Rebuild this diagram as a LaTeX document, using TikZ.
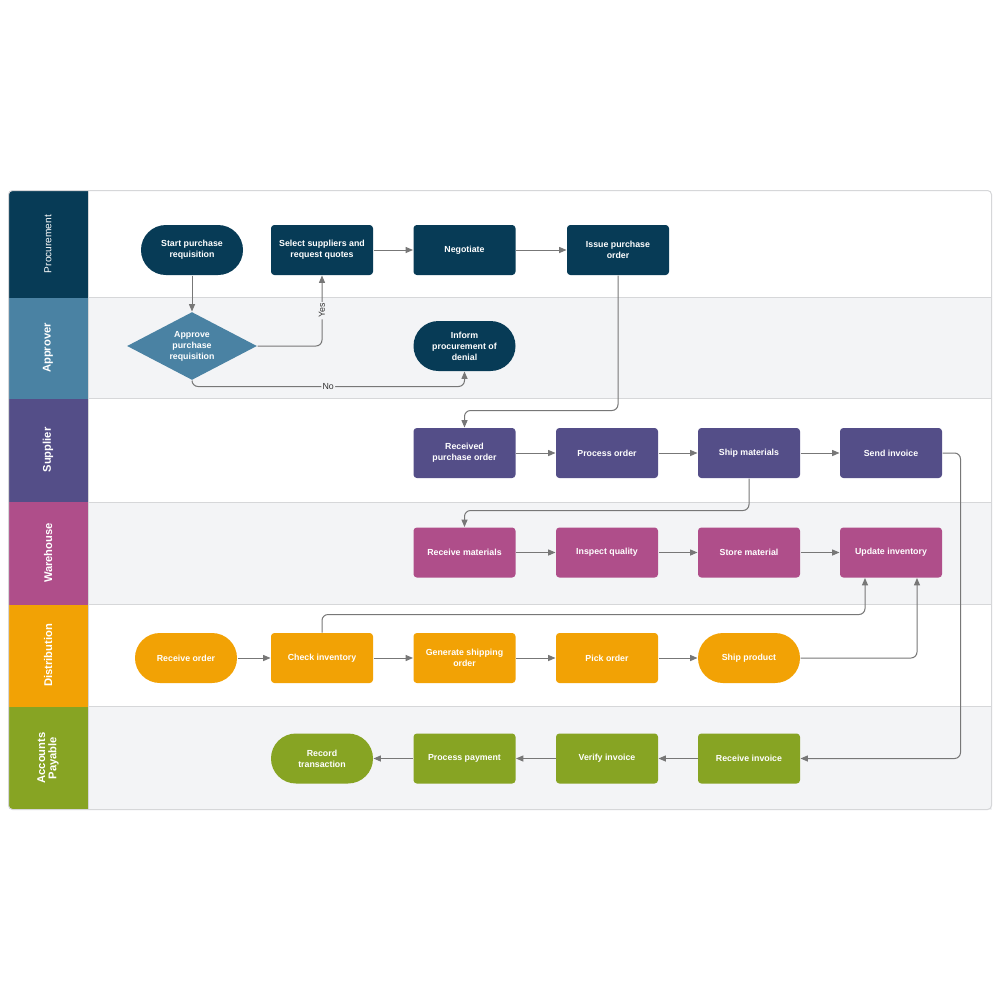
\documentclass[tikz,border=0pt]{standalone}
\usepackage{fontspec}
\setmainfont{Liberation Sans}
\usetikzlibrary{shapes.geometric,arrows.meta}

\definecolor{cProc}{HTML}{073B56}
\definecolor{cAppr}{HTML}{4A82A3}
\definecolor{cSupp}{HTML}{544E88}
\definecolor{cWare}{HTML}{AF4E8A}
\definecolor{cDist}{HTML}{F2A205}
\definecolor{cAcct}{HTML}{87A423}
\definecolor{cLaneGray}{HTML}{F3F4F6}
\definecolor{cRule}{HTML}{D6D7D9}
\definecolor{cFlow}{HTML}{777777}

\tikzset{every picture/.style={line width=0.75pt}}
\tikzset{
  stepbox/.style={rectangle, rounded corners=2.5pt, minimum width=76.5pt, minimum height=37.5pt,
    inner sep=1pt, align=center, text=white, font=\fontsize{6.6}{8.25}\selectfont\bfseries},
  termbox/.style={stepbox, rounded corners=18.7pt},
  decbox/.style={diamond, minimum width=97.5pt, minimum height=51pt, inner sep=0pt, aspect=1.9,
    align=center, text=white, font=\fontsize{6.6}{8.25}\selectfont\bfseries},
  lanetxt/.style={rotate=90, text=white, align=center, font=\fontsize{8.4}{8.4}\selectfont\bfseries},
  flow/.style={draw=cFlow, line width=0.75pt, rounded corners=4.5pt, -{Triangle[length=5.5pt,width=4.5pt]}},
  flowlbl/.style={fill=cLaneGray, inner sep=1pt, text=black!80, font=\fontsize{6.6}{6.6}\selectfont},
}

\begin{document}
\begin{tikzpicture}[x=0.75pt,y=0.75pt,yscale=-1,xscale=1]
\useasboundingbox (0,0) rectangle (1000,1000);
\fill[white] (0,0) rectangle (1000,1000);

%Lane backgrounds
\fill[cLaneGray] (88,297.5) rectangle (991.5,398.5);
\fill[cLaneGray] (88,502) rectangle (991.5,604.5);
\fill[cLaneGray] (88,706.5) rectangle (991.5,809.5);
%Lane headers
\begin{scope}
\clip[rounded corners=3pt] (8.5,190.5) rectangle (991.5,809.5);
\fill[cProc] (8.5,190.5) rectangle (88,297.5);
\fill[cAppr] (8.5,297.5) rectangle (88,398.5);
\fill[cSupp] (8.5,398.5) rectangle (88,502);
\fill[cWare] (8.5,502) rectangle (88,604.5);
\fill[cDist] (8.5,604.5) rectangle (88,706.5);
\fill[cAcct] (8.5,706.5) rectangle (88,809.5);
\end{scope}
%Lane rules
\draw[cRule] (88,297.5) -- (991.5,297.5);
\draw[cRule] (88,398.5) -- (991.5,398.5);
\draw[cRule] (88,502) -- (991.5,502);
\draw[cRule] (88,604.5) -- (991.5,604.5);
\draw[cRule] (88,706.5) -- (991.5,706.5);
\draw[cRule] (88,190.5) -- (88,809.5);
\draw[cRule, rounded corners=3pt] (8.5,190.5) rectangle (991.5,809.5);

% Lane titles
\node (lnProc) at (48,244) [lanetxt, font=\fontsize{7.6}{7.6}\selectfont] {Procurement};
\node (lnAppr) at (48,348) [lanetxt] {Approver};
\node (lnSupp) at (48,450) [lanetxt] {Supplier};
\node (lnWare) at (48,553) [lanetxt] {Warehouse};
\node (lnDist) at (48,655.5) [lanetxt] {Distribution};
\node (lnAcct) at (48,758) [lanetxt] {Accounts\\Payable};

%Procurement
\node (startReq) at (192,250) [termbox, fill=cProc] {Start purchase\\requisition};
\node (selSupp) at (322,250) [stepbox, fill=cProc] {Select suppliers and\\request quotes};
\node (negot) at (464.5,250) [stepbox, fill=cProc] {Negotiate};
\node (issuePO) at (618,250) [stepbox, fill=cProc] {Issue purchase\\order};
%Approver
\node (apprReq) at (192,346) [decbox, fill=cAppr] {Approve\\purchase\\requisition};
\node (informDen) at (464.5,346) [termbox, fill=cProc] {Inform\\procurement of\\denial};
%Supplier
\node (recvPO) at (464.5,453) [stepbox, fill=cSupp] {Received\\purchase order};
\node (procOrd) at (607,453) [stepbox, fill=cSupp] {Process order};
\node (shipMat) at (749,453) [stepbox, fill=cSupp] {Ship materials};
\node (sendInv) at (891,453) [stepbox, fill=cSupp] {Send invoice};
%Warehouse
\node (recvMat) at (464.5,552.5) [stepbox, fill=cWare] {Receive materials};
\node (inspQual) at (607,552.5) [stepbox, fill=cWare] {Inspect quality};
\node (storeMat) at (749,552.5) [stepbox, fill=cWare] {Store material};
\node (updInv) at (891,552.5) [stepbox, fill=cWare] {Update inventory};
%Distribution
\node (recvOrd) at (186,658) [termbox, fill=cDist] {Receive order};
\node (chkInv) at (322,658) [stepbox, fill=cDist] {Check inventory};
\node (genShip) at (464.5,658) [stepbox, fill=cDist] {Generate shipping\\order};
\node (pickOrd) at (607,658) [stepbox, fill=cDist] {Pick order};
\node (shipProd) at (749,658) [termbox, fill=cDist] {Ship product};
%Accounts Payable
\node (recTrans) at (322,758.5) [termbox, fill=cAcct] {Record\\transaction};
\node (procPay) at (464.5,758.5) [stepbox, fill=cAcct] {Process payment};
\node (verInv) at (607,758.5) [stepbox, fill=cAcct] {Verify invoice};
\node (recvInv) at (749,758.5) [stepbox, fill=cAcct] {Receive invoice};

% Connectors
\draw [flow] (startReq) -- (apprReq);
\draw [flow] (apprReq.east) -| node[flowlbl, pos=0.75, rotate=90] {Yes} (selSupp.south);
\draw [flow] (apprReq.south) -- ++(0,6) -| node[flowlbl, pos=0.25] {No} (informDen.south);
\draw [flow] (selSupp) -- (negot);
\draw [flow] (negot) -- (issuePO);
\draw [flow] (issuePO.south) -- ++(0,135) -| (recvPO.north);
\draw [flow] (recvPO) -- (procOrd);
\draw [flow] (procOrd) -- (shipMat);
\draw [flow] (shipMat) -- (sendInv);
\draw [flow] (shipMat.south) -- ++(0,32) -| (recvMat.north);
\draw [flow] (sendInv.east) -- ++(18,0) |- (recvInv.east);
\draw [flow] (recvMat) -- (inspQual);
\draw [flow] (inspQual) -- (storeMat);
\draw [flow] (storeMat) -- (updInv);
\draw [flow] (recvOrd) -- (chkInv);
\draw [flow] (chkInv) -- (genShip);
\draw [flow] (genShip) -- (pickOrd);
\draw [flow] (pickOrd) -- (shipProd);
\draw [flow] (chkInv.north) -- ++(0,-18) -| ([xshift=-19.5pt]updInv.south);
\draw [flow] (shipProd.east) -| ([xshift=19.5pt]updInv.south);
\draw [flow] (recvInv) -- (verInv);
\draw [flow] (verInv) -- (procPay);
\draw [flow] (procPay) -- (recTrans);

\end{tikzpicture}
\end{document}
